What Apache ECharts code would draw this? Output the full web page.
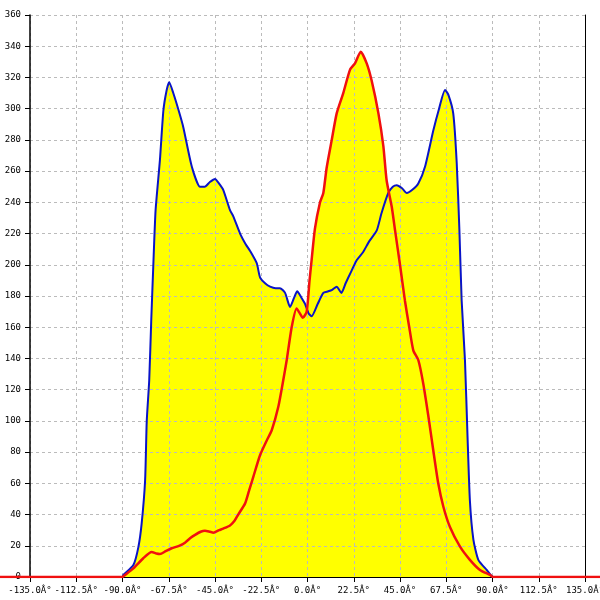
<!DOCTYPE html>
<html><head><meta charset="utf-8">
<script src="https://cdn.jsdelivr.net/npm/echarts@6/dist/echarts.min.js"></script>
<style>html,body{margin:0;padding:0;background:#fff}#c{width:600px;height:600px}</style>
</head><body><div id="c"></div>
<script>
// Blue series (angle deg, value)
const blueX = [-180,-90,-89.6,-84.7,-82.3,-80.7,-79,-78.2,-77,-76,-75,-73.9,-71.8,-70.1,-68.5,-67.3,-65.3,-62.5,-60.4,-56.3,-52.3,-50,-47.5,-45,-43,-41,-37.7,-36.1,-32.8,-30,-28,-24.7,-23.1,-20.5,-18.2,-15.5,-13.4,-10.9,-8.5,-6.5,-5,-3,-1.2,0.5,2,5,7.7,10.1,12,14.2,16.5,18.5,21,24,27,30,33.7,36,39.3,41.5,43.4,46,48.3,51,53.9,57.2,61.2,64,66.9,68.5,70.9,72.6,73.9,75,76.6,77.8,79,80.7,83.1,87.2,90.4,180];
const blueY = [0,0,1.3,7.7,19,34,62,100,126,165,200,235,267,299,312,317,310,298,288,263,250,250,253,255,252,248,235,231,220,213,209,201,192,188,186,185,185,182,173,179,183,179,175,169,167,175,182,183,184,186,182,188,195,203,208,215,222,233,246,250,251,249,246,248,252,263,286,300,312,309,297,265,222,177,139,92,49,24,11,4.5,0,0];
// Red series (angle deg, value)
const redX = [-180,-90,-89.6,-84.7,-79.9,-75.8,-73.5,-71.8,-69,-66.1,-62.5,-59.6,-57,-54.7,-52,-49.9,-47.5,-45.8,-43,-41,-37.7,-35.5,-33.7,-30.4,-28.5,-26.4,-23.1,-20,-17.4,-14.2,-11.8,-10.1,-7.7,-5.3,-3.8,-2.3,-0.4,1,2,3.6,6.1,7.7,9.3,11.8,14.2,17.4,20.7,23.1,25.9,28.8,31.2,34.5,36.9,38.5,41,42.6,45,47.4,49.5,51.5,53.9,56.3,58.8,61.2,63.6,66.1,69.3,74.2,79,83.9,88.8,90.4,180];
const redY = [0,0,0.5,5.5,12,16,15,14.7,16.5,18.4,20,22,25,27,29,29.7,29,28.4,30,31,33,36,40,47,55,64,78,87,94,109,126,139,160,172,169,166,170,190,203,223,240,246,262,280,297,310,325,329,336.5,329,318,297,276,254,237,222,200,177,160,145,139,124,103,81,60,45,32,19.4,11,4.5,1.3,0,0];
// Axis ticks
const xMin = -135, xMax = 135, xStep = 22.5;
const yMin = 0, yMax = 360, yStep = 20;

const pairs = (xs, ys) => xs.map((x, i) => [x, ys[i]]);
const blueData = pairs(blueX, blueY);
const redData = pairs(redX, redY);

// plot layout
const W = 600, GL = 30, GR = 15, GT = 15, GB = 23;
const degPerPx = (xMax - xMin) / (W - GL - GR);
// full-width overlay axis with the same scale (so the red trace runs to the canvas edges)
const xMinFull = xMin - GL * degPerPx, xMaxFull = xMax + GR * degPerPx;

const chart = echarts.init(document.getElementById('c'), null, {renderer: 'canvas'});
const lab = {color: '#000', fontFamily: 'DejaVu Sans Mono', fontSize: 9};
const split = {show: true, lineStyle: {color: '#bbb', type: [3, 3], width: 1}};
chart.setOption({
  animation: false,
  backgroundColor: '#fff',
  grid: [
    {left: GL, right: GR, top: GT, bottom: GB, containLabel: false, outerBoundsMode: 'none'},
    {left: 0, right: 0, top: GT, bottom: GB, containLabel: false, outerBoundsMode: 'none'}
  ],
  xAxis: [{
    type: 'value', gridIndex: 0, min: xMin, max: xMax, interval: xStep, z: 3,
    axisLine: {show: true, onZero: false, lineStyle: {color: '#000', width: 1}},
    axisTick: {show: true, length: 5, lineStyle: {color: '#000'}},
    axisLabel: Object.assign({margin: 9, interval: 0, hideOverlap: false, formatter: v => v.toFixed(1) + 'Â°', showMinLabel: true, showMaxLabel: true}, lab),
    splitLine: split
  }, {
    type: 'value', gridIndex: 1, min: xMinFull, max: xMaxFull, show: false
  }],
  yAxis: [{
    type: 'value', gridIndex: 0, min: yMin, max: yMax, interval: yStep, z: 3, position: 'left',
    axisLine: {show: true, onZero: false, lineStyle: {color: '#000', width: 1.5}},
    axisTick: {show: true, length: 5, lineStyle: {color: '#000'}},
    axisLabel: Object.assign({margin: 9}, lab),
    splitLine: split
  }, {
    type: 'value', gridIndex: 0, min: yMin, max: yMax, interval: yStep, position: 'right', z: 3,
    axisLine: {show: true, onZero: false, lineStyle: {color: '#000', width: 1}},
    axisTick: {show: false}, axisLabel: {show: false}, splitLine: {show: false}
  }, {
    type: 'value', gridIndex: 1, min: yMin, max: yMax, show: false
  }],
  series: [
    {type: 'line', data: blueData, xAxisIndex: 0, yAxisIndex: 0, z: 1, symbol: 'none', smooth: 0.2,
     lineStyle: {width: 0}, areaStyle: {color: '#ffff00', opacity: 1}},
    {type: 'line', data: redData, xAxisIndex: 0, yAxisIndex: 0, z: 1, symbol: 'none', smooth: 0.2,
     lineStyle: {width: 0}, areaStyle: {color: '#ffff00', opacity: 1}},
    {type: 'line', data: blueData, xAxisIndex: 0, yAxisIndex: 0, z: 5, symbol: 'none', smooth: 0.2,
     lineStyle: {width: 2, color: '#0a14c8'}},
    {type: 'line', data: redData, xAxisIndex: 1, yAxisIndex: 2, z: 6, symbol: 'none', smooth: 0.2,
     lineStyle: {width: 2.5, color: '#f01010'}}
  ]
});
</script></body></html>
